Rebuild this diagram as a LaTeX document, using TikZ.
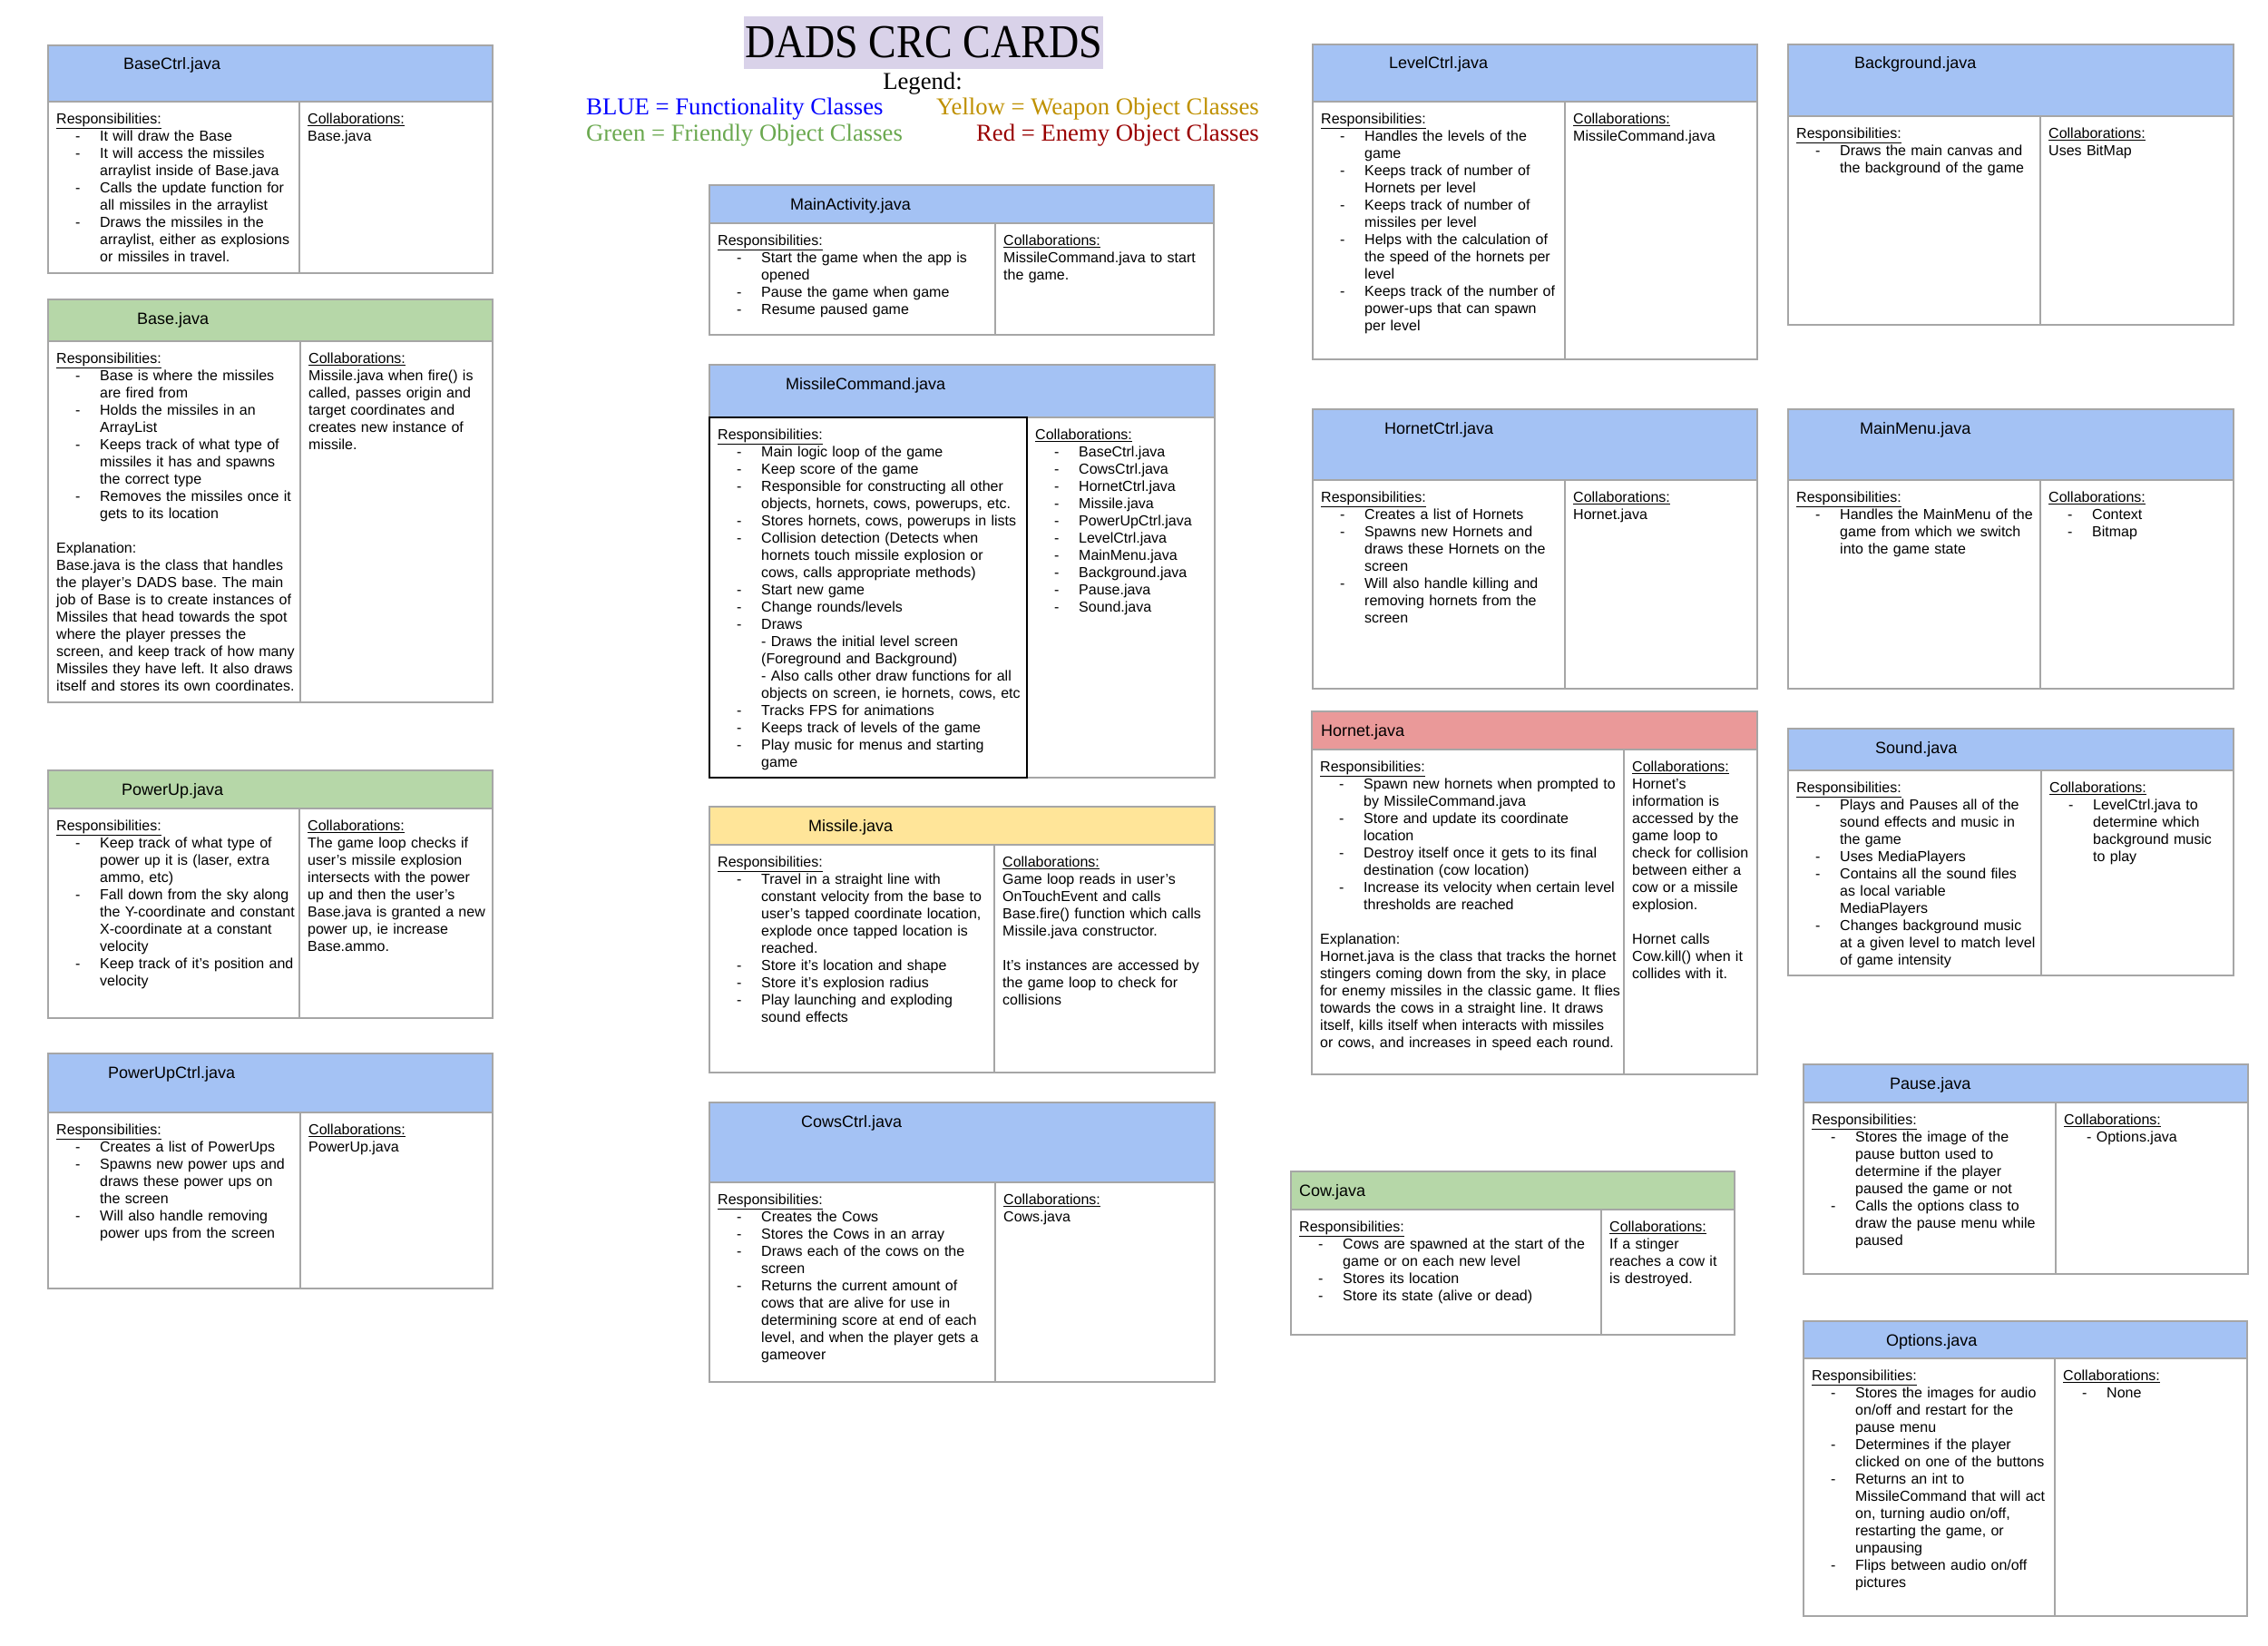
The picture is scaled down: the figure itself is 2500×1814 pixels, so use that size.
\documentclass[tikz,border=0pt]{standalone}
\usepackage{fontspec}
\setmainfont{Liberation Sans}
\newfontfamily\legendfont{Liberation Serif}
\newfontfamily\titlefont[FakeStretch=0.885]{Liberation Serif}
\usetikzlibrary{calc}
\definecolor{funcblue}{HTML}{A4C2F4}
\definecolor{friendgreen}{HTML}{B6D7A8}
\definecolor{weaponyellow}{HTML}{FFE599}
\definecolor{enemyred}{HTML}{EA9999}
\definecolor{titlelilac}{HTML}{D9D2E9}
\definecolor{cardgray}{HTML}{A6A6A6}
\definecolor{legendblue}{HTML}{0000FF}
\definecolor{legendyellow}{HTML}{BF9000}
\definecolor{legendgreen}{HTML}{6AA84F}
\definecolor{legendred}{HTML}{990000}
\frenchspacing

% list item and continuation indents
\newcommand{\itm}{\hspace*{21pt}\makebox[27pt][l]{-}}
\newcommand{\cnt}{\hspace*{48pt}}

\begin{document}
\begin{tikzpicture}[x=1pt,y=-1pt,
    cardline/.style={draw=cardgray, line width=1.5pt},
    cardtitle/.style={anchor=base west, inner sep=0pt, font=\fontsize{18}{22}\selectfont},
    celltext/.style={anchor=north west, inner sep=0pt, align=left, text width=420pt, font=\fontsize{16}{19}\selectfont},
    legendtext/.style={anchor=base west, inner sep=0pt, font=\legendfont\fontsize{26.7}{30}\selectfont}]

\useasboundingbox (0,0) rectangle (2500,1814);

% --- MACRO: DRAW CARD ---
% #1: name, #2: left, #3: divider, #4: right
% #5: top, #6: header bottom, #7: bottom, #8: header fill
\newcommand{\drawCard}[8]{
    \fill[#8] (#2,#5) rectangle (#4,#6);
    \draw[cardline] (#2,#5) rectangle (#4,#7);
    \draw[cardline] (#2,#6) -- (#4,#6) (#3,#6) -- (#3,#7);
    \coordinate (#1-head) at (#2,#5);
    \coordinate (#1-resp) at (#2+9,#6+13);
    \coordinate (#1-coll) at (#3+9,#6+13);
}

% --- TITLE AND LEGEND ---
\node[fill=titlelilac, minimum width=396pt, minimum height=58pt, inner sep=0pt,
    font=\titlefont\fontsize{52}{52}\selectfont] (title) at (1018,47) {DADS CRC CARDS};
\node[legendtext, anchor=base] (legend) at (1017,99) {Legend:};
\node[legendtext, text=legendblue] (leg-blue) at (646,127) {BLUE = Functionality Classes};
\node[legendtext, text=legendyellow, anchor=base east] (leg-yellow) at (1388,127) {Yellow = Weapon Object Classes};
\node[legendtext, text=legendgreen] (leg-green) at (646,156) {Green = Friendly Object Classes};
\node[legendtext, text=legendred, anchor=base east] (leg-red) at (1388,156) {Red = Enemy Object Classes};

% --- LEFT COLUMN ---
\drawCard{basectrl}{53}{330}{543}{50}{112}{301}{funcblue}
\node[cardtitle] (basectrl-name) at ($(basectrl-head)+(83,27)$) {BaseCtrl.java};
\node[celltext] (basectrl-r) at (basectrl-resp) {\underline{Responsibilities:}\\
\itm It will draw the Base\\
\itm It will access the missiles\\
\cnt arraylist inside of Base.java\\
\itm Calls the update function for\\
\cnt all missiles in the arraylist\\
\itm Draws the missiles in the\\
\cnt arraylist, either as explosions\\
\cnt or missiles in travel.};
\node[celltext] (basectrl-c) at (basectrl-coll) {\underline{Collaborations:}\\
Base.java};

\drawCard{base}{53}{331}{543}{330}{376}{774}{friendgreen}
\node[cardtitle] (base-name) at ($(base-head)+(98,27)$) {Base.java};
\node[celltext] (base-r) at (base-resp) {\underline{Responsibilities:}\\
\itm Base is where the missiles\\
\cnt are fired from\\
\itm Holds the missiles in an\\
\cnt ArrayList\\
\itm Keeps track of what type of\\
\cnt missiles it has and spawns\\
\cnt the correct type\\
\itm Removes the missiles once it\\
\cnt gets to its location\\[19pt]
Explanation:\\
Base.java is the class that handles\\
the player’s DADS base. The main\\
job of Base is to create instances of\\
Missiles that head towards the spot\\
where the player presses the\\
screen, and keep track of how many\\
Missiles they have left. It also draws\\
itself and stores its own coordinates.};
\node[celltext] (base-c) at (base-coll) {\underline{Collaborations:}\\
Missile.java when fire() is\\
called, passes origin and\\
target coordinates and\\
creates new instance of\\
missile.};

\drawCard{powerup}{53}{330}{543}{849}{891}{1122}{friendgreen}
\node[cardtitle] (powerup-name) at ($(powerup-head)+(81,27)$) {PowerUp.java};
\node[celltext] (powerup-r) at (powerup-resp) {\underline{Responsibilities:}\\
\itm Keep track of what type of\\
\cnt power up it is (laser, extra\\
\cnt ammo, etc)\\
\itm Fall down from the sky along\\
\cnt the Y-coordinate and constant\\
\cnt X-coordinate at a constant\\
\cnt velocity\\
\itm Keep track of it’s position and\\
\cnt velocity};
\node[celltext] (powerup-c) at (powerup-coll) {\underline{Collaborations:}\\
The game loop checks if\\
user’s missile explosion\\
intersects with the power\\
up and then the user’s\\
Base.java is granted a new\\
power up, ie increase\\
Base.ammo.};

\drawCard{powerupctrl}{53}{331}{543}{1161}{1226}{1420}{funcblue}
\node[cardtitle] (powerupctrl-name) at ($(powerupctrl-head)+(66,27)$) {PowerUpCtrl.java};
\node[celltext] (powerupctrl-r) at (powerupctrl-resp) {\underline{Responsibilities:}\\
\itm Creates a list of PowerUps\\
\itm Spawns new power ups and\\
\cnt draws these power ups on\\
\cnt the screen\\
\itm Will also handle removing\\
\cnt power ups from the screen};
\node[celltext] (powerupctrl-c) at (powerupctrl-coll) {\underline{Collaborations:}\\
PowerUp.java};

% --- MIDDLE COLUMN ---
\drawCard{mainactivity}{782}{1097}{1338}{204}{246}{369}{funcblue}
\node[cardtitle] (mainactivity-name) at ($(mainactivity-head)+(89,27)$) {MainActivity.java};
\node[celltext] (mainactivity-r) at (mainactivity-resp) {\underline{Responsibilities:}\\
\itm Start the game when the app is\\
\cnt opened\\
\itm Pause the game when game\\
\itm Resume paused game};
\node[celltext] (mainactivity-c) at (mainactivity-coll) {\underline{Collaborations:}\\
MissileCommand.java to start\\
the game.};

\drawCard{missilecommand}{782}{1132}{1339}{402}{460}{857}{funcblue}
\draw[black, line width=1.5pt] (782,460) rectangle (1132,857);
\node[cardtitle] (missilecommand-name) at ($(missilecommand-head)+(84,27)$) {MissileCommand.java};
\node[celltext] (missilecommand-r) at (missilecommand-resp) {\underline{Responsibilities:}\\
\itm Main logic loop of the game\\
\itm Keep score of the game\\
\itm Responsible for constructing all other\\
\cnt objects, hornets, cows, powerups, etc.\\
\itm Stores hornets, cows, powerups in lists\\
\itm Collision detection (Detects when\\
\cnt hornets touch missile explosion or\\
\cnt cows, calls appropriate methods)\\
\itm Start new game\\
\itm Change rounds/levels\\
\itm Draws\\
\cnt - Draws the initial level screen\\
\cnt (Foreground and Background)\\
\cnt - Also calls other draw functions for all\\
\cnt objects on screen, ie hornets, cows, etc\\
\itm Tracks FPS for animations\\
\itm Keeps track of levels of the game\\
\itm Play music for menus and starting\\
\cnt game};
\node[celltext] (missilecommand-c) at (missilecommand-coll) {\underline{Collaborations:}\\
\itm BaseCtrl.java\\
\itm CowsCtrl.java\\
\itm HornetCtrl.java\\
\itm Missile.java\\
\itm PowerUpCtrl.java\\
\itm LevelCtrl.java\\
\itm MainMenu.java\\
\itm Background.java\\
\itm Pause.java\\
\itm Sound.java};

\drawCard{missile}{782}{1096}{1339}{889}{931}{1182}{weaponyellow}
\node[cardtitle] (missile-name) at ($(missile-head)+(109,27)$) {Missile.java};
\node[celltext] (missile-r) at (missile-resp) {\underline{Responsibilities:}\\
\itm Travel in a straight line with\\
\cnt constant velocity from the base to\\
\cnt user’s tapped coordinate location,\\
\cnt explode once tapped location is\\
\cnt reached.\\
\itm Store it’s location and shape\\
\itm Store it’s explosion radius\\
\itm Play launching and exploding\\
\cnt sound effects};
\node[celltext] (missile-c) at (missile-coll) {\underline{Collaborations:}\\
Game loop reads in user’s\\
OnTouchEvent and calls\\
Base.fire() function which calls\\
Missile.java constructor.\\[19pt]
It’s instances are accessed by\\
the game loop to check for\\
collisions};

\drawCard{cowsctrl}{782}{1097}{1339}{1215}{1303}{1523}{funcblue}
\node[cardtitle] (cowsctrl-name) at ($(cowsctrl-head)+(101,27)$) {CowsCtrl.java};
\node[celltext] (cowsctrl-r) at (cowsctrl-resp) {\underline{Responsibilities:}\\
\itm Creates the Cows\\
\itm Stores the Cows in an array\\
\itm Draws each of the cows on the\\
\cnt screen\\
\itm Returns the current amount of\\
\cnt cows that are alive for use in\\
\cnt determining score at end of each\\
\cnt level, and when the player gets a\\
\cnt gameover};
\node[celltext] (cowsctrl-c) at (cowsctrl-coll) {\underline{Collaborations:}\\
Cows.java};

% --- RIGHT-MIDDLE COLUMN ---
\drawCard{levelctrl}{1447}{1725}{1937}{49}{112}{396}{funcblue}
\node[cardtitle] (levelctrl-name) at ($(levelctrl-head)+(84,27)$) {LevelCtrl.java};
\node[celltext] (levelctrl-r) at (levelctrl-resp) {\underline{Responsibilities:}\\
\itm Handles the levels of the\\
\cnt game\\
\itm Keeps track of number of\\
\cnt Hornets per level\\
\itm Keeps track of number of\\
\cnt missiles per level\\
\itm Helps with the calculation of\\
\cnt the speed of the hornets per\\
\cnt level\\
\itm Keeps track of the number of\\
\cnt power-ups that can spawn\\
\cnt per level};
\node[celltext] (levelctrl-c) at (levelctrl-coll) {\underline{Collaborations:}\\
MissileCommand.java};

\drawCard{hornetctrl}{1447}{1725}{1937}{451}{529}{759}{funcblue}
\node[cardtitle] (hornetctrl-name) at ($(hornetctrl-head)+(79,27)$) {HornetCtrl.java};
\node[celltext] (hornetctrl-r) at (hornetctrl-resp) {\underline{Responsibilities:}\\
\itm Creates a list of Hornets\\
\itm Spawns new Hornets and\\
\cnt draws these Hornets on the\\
\cnt screen\\
\itm Will also handle killing and\\
\cnt removing hornets from the\\
\cnt screen};
\node[celltext] (hornetctrl-c) at (hornetctrl-coll) {\underline{Collaborations:}\\
Hornet.java};

\drawCard{hornet}{1446}{1790}{1937}{784}{826}{1184}{enemyred}
\node[cardtitle] (hornet-name) at ($(hornet-head)+(10,27)$) {Hornet.java};
\node[celltext] (hornet-r) at (hornet-resp) {\underline{Responsibilities:}\\
\itm Spawn new hornets when prompted to\\
\cnt by MissileCommand.java\\
\itm Store and update its coordinate\\
\cnt location\\
\itm Destroy itself once it gets to its final\\
\cnt destination (cow location)\\
\itm Increase its velocity when certain level\\
\cnt thresholds are reached\\[19pt]
Explanation:\\
Hornet.java is the class that tracks the hornet\\
stingers coming down from the sky, in place\\
for enemy missiles in the classic game. It flies\\
towards the cows in a straight line. It draws\\
itself, kills itself when interacts with missiles\\
or cows, and increases in speed each round.};
\node[celltext] (hornet-c) at (hornet-coll) {\underline{Collaborations:}\\
Hornet’s\\
information is\\
accessed by the\\
game loop to\\
check for collision\\
between either a\\
cow or a missile\\
explosion.\\[19pt]
Hornet calls\\
Cow.kill() when it\\
collides with it.};

\drawCard{cow}{1423}{1765}{1912}{1291}{1333}{1471}{friendgreen}
\node[cardtitle] (cow-name) at ($(cow-head)+(9,27)$) {Cow.java};
\node[celltext] (cow-r) at (cow-resp) {\underline{Responsibilities:}\\
\itm Cows are spawned at the start of the\\
\cnt game or on each new level\\
\itm Stores its location\\
\itm Store its state (alive or dead)};
\node[celltext] (cow-c) at (cow-coll) {\underline{Collaborations:}\\
If a stinger\\
reaches a cow it\\
is destroyed.};

% --- RIGHT COLUMN ---
\drawCard{background}{1971}{2249}{2462}{49}{128}{358}{funcblue}
\node[cardtitle] (background-name) at ($(background-head)+(73,27)$) {Background.java};
\node[celltext] (background-r) at (background-resp) {\underline{Responsibilities:}\\
\itm Draws the main canvas and\\
\cnt the background of the game};
\node[celltext] (background-c) at (background-coll) {\underline{Collaborations:}\\
Uses BitMap};

\drawCard{mainmenu}{1971}{2249}{2462}{451}{529}{759}{funcblue}
\node[cardtitle] (mainmenu-name) at ($(mainmenu-head)+(79,27)$) {MainMenu.java};
\node[celltext] (mainmenu-r) at (mainmenu-resp) {\underline{Responsibilities:}\\
\itm Handles the MainMenu of the\\
\cnt game from which we switch\\
\cnt into the game state};
\node[celltext] (mainmenu-c) at (mainmenu-coll) {\underline{Collaborations:}\\
\itm Context\\
\itm Bitmap};

\drawCard{sound}{1971}{2250}{2462}{803}{849}{1075}{funcblue}
\node[cardtitle] (sound-name) at ($(sound-head)+(96,27)$) {Sound.java};
\node[celltext] (sound-r) at (sound-resp) {\underline{Responsibilities:}\\
\itm Plays and Pauses all of the\\
\cnt sound effects and music in\\
\cnt the game\\
\itm Uses MediaPlayers\\
\itm Contains all the sound files\\
\cnt as local variable\\
\cnt MediaPlayers\\
\itm Changes background music\\
\cnt at a given level to match level\\
\cnt of game intensity};
\node[celltext] (sound-c) at (sound-coll) {\underline{Collaborations:}\\
\itm LevelCtrl.java to\\
\cnt determine which\\
\cnt background music\\
\cnt to play};

\drawCard{pause}{1988}{2266}{2478}{1173}{1215}{1404}{funcblue}
\node[cardtitle] (pause-name) at ($(pause-head)+(95,27)$) {Pause.java};
\node[celltext] (pause-r) at (pause-resp) {\underline{Responsibilities:}\\
\itm Stores the image of the\\
\cnt pause button used to\\
\cnt determine if the player\\
\cnt paused the game or not\\
\itm Calls the options class to\\
\cnt draw the pause menu while\\
\cnt paused};
\node[celltext] (pause-c) at (pause-coll) {\underline{Collaborations:}\\
\hspace*{25pt}- Options.java};

\drawCard{options}{1988}{2265}{2477}{1456}{1497}{1781}{funcblue}
\node[cardtitle] (options-name) at ($(options-head)+(91,27)$) {Options.java};
\node[celltext] (options-r) at (options-resp) {\underline{Responsibilities:}\\
\itm Stores the images for audio\\
\cnt on/off and restart for the\\
\cnt pause menu\\
\itm Determines if the player\\
\cnt clicked on one of the buttons\\
\itm Returns an int to\\
\cnt MissileCommand that will act\\
\cnt on, turning audio on/off,\\
\cnt restarting the game, or\\
\cnt unpausing\\
\itm Flips between audio on/off\\
\cnt pictures};
\node[celltext] (options-c) at (options-coll) {\underline{Collaborations:}\\
\itm None};

\end{tikzpicture}
\end{document}
